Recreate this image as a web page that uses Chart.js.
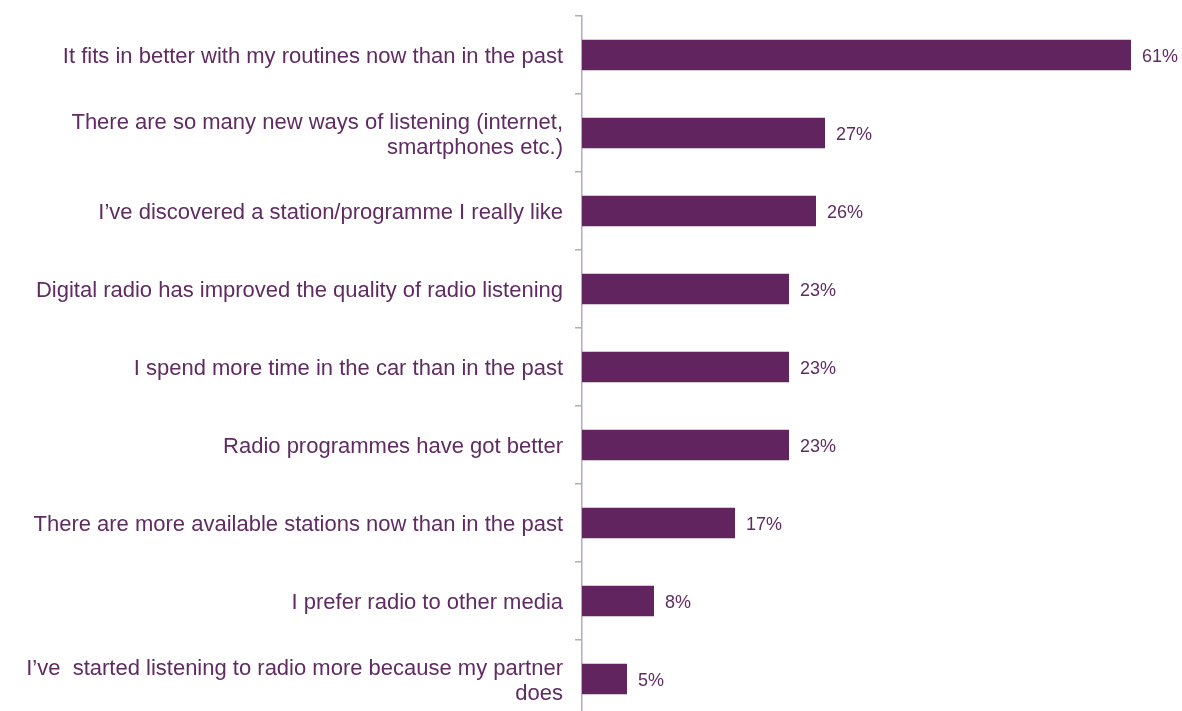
<!DOCTYPE html>
<html>
<head>
<meta charset="utf-8">
<script src="https://cdn.jsdelivr.net/npm/chart.js@4/dist/chart.umd.min.js"></script>
<style>
  html, body { margin: 0; padding: 0; background: #fff; overflow: hidden; }
  #wrap { width: 1182px; height: 722px; position: relative; }
</style>
</head>
<body>
<div id="wrap"><canvas id="chart-reasons"></canvas></div>
<script>
// ===== Reasons for listening to radio more =====

const REASONS = [
  'It fits in better with my routines now than in the past',
  ['There are so many new ways of listening (internet,', 'smartphones etc.)'],
  'I\u2019ve discovered a station/programme I really like',
  'Digital radio has improved the quality of radio listening',
  'I spend more time in the car than in the past',
  'Radio programmes have got better',
  'There are more available stations now than in the past',
  'I prefer radio to other media',
  ['I\u2019ve  started listening to radio more because my partner', 'does'],
];
const SHARE_PCT = [61, 27, 26, 23, 23, 23, 17, 8, 5];

const PURPLE    = '#62245f';
const TEXT_COL  = '#602b63';
const AXIS_COL  = '#b9a8bb';
const FONT      = '"Liberation Sans", Arial, sans-serif';

// Draw "xx%" just past the end of each bar
const valueLabels = {
  id: 'valueLabels',
  afterDatasetsDraw(chart) {
    const { ctx } = chart;
    const meta = chart.getDatasetMeta(0);
    ctx.save();
    ctx.font = `18px ${FONT}`;
    ctx.fillStyle = TEXT_COL;
    ctx.textAlign = 'left';
    ctx.textBaseline = 'middle';
    meta.data.forEach((bar, i) => {
      ctx.fillText(`${SHARE_PCT[i]}%`, bar.x + 11, bar.y + 2);
    });
    ctx.restore();
  },
};

const ctx = document.getElementById('chart-reasons').getContext('2d');
new Chart(ctx, {
  type: 'bar',
  data: {
    labels: REASONS,
    datasets: [{
      label: 'Reasons',
      data: SHARE_PCT,
      backgroundColor: PURPLE,
      categoryPercentage: 1,
      barPercentage: 0.39,
    }],
  },
  options: {
    indexAxis: 'y',
    responsive: true,
    maintainAspectRatio: false,
    animation: false,
    layout: { padding: { top: 16, right: 6, bottom: 4, left: 0 } },
    plugins: { legend: { display: false }, tooltip: { enabled: false } },
    scales: {
      x: {
        display: false,
        min: 0,
        max: 66,
      },
      y: {
        // fixed label column; no extra room for half-label overhang
        afterFit: (scale) => {
          scale.width = 582;
          scale.paddingTop = 0;
          scale.paddingBottom = 0;
        },
        grid: {
          offset: true,
          drawOnChartArea: false,
          drawTicks: true,
          tickLength: 7,
          color: AXIS_COL,
          lineWidth: 1.5,
        },
        border: { color: AXIS_COL, width: 1.5 },
        ticks: {
          color: TEXT_COL,
          padding: 12,
          labelOffset: 2,
          font: { family: FONT, size: 22, lineHeight: 1.14 },
        },
      },
    },
  },
  plugins: [valueLabels],
});
</script>
</body>
</html>
